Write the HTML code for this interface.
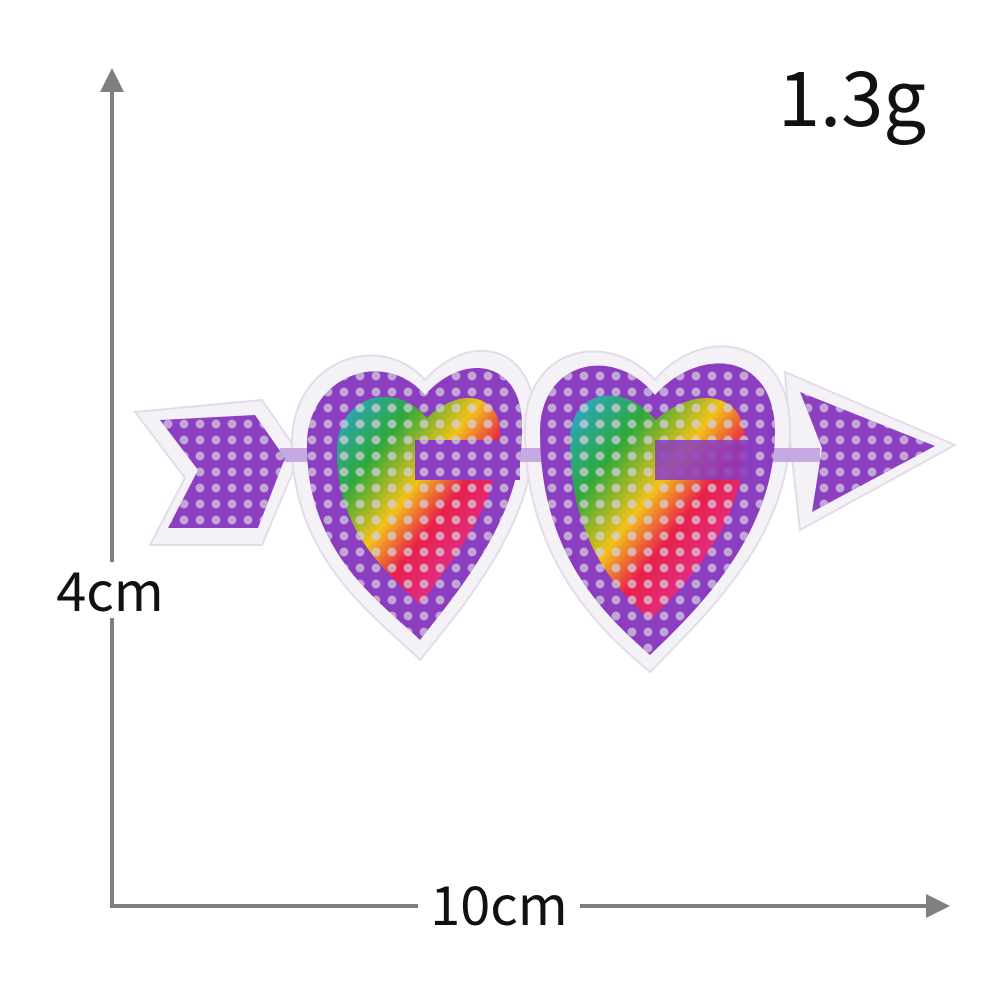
<!DOCTYPE html>
<html><head><meta charset="utf-8"><style>
html,body{margin:0;padding:0;background:#fff;width:1000px;height:1000px;overflow:hidden}
svg{display:block}
text{font-family:"Noto Sans CJK SC","Liberation Sans",sans-serif;fill:#111}
</style></head><body>
<svg width="1000" height="1000" viewBox="0 0 1000 1000">
<defs>
<linearGradient id="rb" x1="0" y1="0" x2="1" y2="1">
<stop offset="0" stop-color="#2aa6e0"/><stop offset="0.25" stop-color="#2fa83a"/>
<stop offset="0.45" stop-color="#f2c21a"/><stop offset="0.6" stop-color="#e8204a"/>
<stop offset="0.8" stop-color="#e0308f"/><stop offset="1" stop-color="#3a3ac0"/></linearGradient>
<pattern id="dots" width="16" height="16" patternUnits="userSpaceOnUse">
<circle cx="8" cy="8" r="4.5" fill="#d8d0e0" opacity="0.7"/></pattern>
</defs>
<g>
<line x1="112" y1="86" x2="112" y2="906" stroke="#7f7f7f" stroke-width="4"/>
<polygon points="112,68 100,92 124,92" fill="#7f7f7f"/>
</g>
<g>
<line x1="110" y1="906" x2="928" y2="906" stroke="#7f7f7f" stroke-width="4"/>
<polygon points="950,906 926,894 926,918" fill="#7f7f7f"/>
</g>
<rect x="48" y="562" width="125" height="56" fill="#fff"/>
<text x="110" y="611" font-size="54" text-anchor="middle">4cm</text>
<rect x="418" y="876" width="162" height="58" fill="#fff"/>
<text x="499" y="925" font-size="54" text-anchor="middle">10cm</text>
<text x="852" y="126" font-size="76" text-anchor="middle">1.3g</text>

<g>
<g fill="#f4f2f7" stroke="#e2dcea" stroke-width="2">
<polygon points="135,412 262,400 300,455 262,545 150,545 185,478"/>
<polygon points="785,372 955,445 800,530 790,440"/>
<path d="M420,660 C380,620 290,560 292,440 C294,360 380,330 425,380 C470,330 535,345 535,420 C540,520 460,610 420,660Z"/>
<path d="M650,672 C600,630 525,560 525,430 C525,345 610,330 655,380 C700,325 790,335 790,430 C790,540 700,620 650,672Z"/>
</g>
<rect x="280" y="448" width="540" height="14" fill="#c6a9e3"/>
<polygon points="160,420 255,415 285,458 258,528 168,528 198,470" fill="#8c3fc0"/>
<polygon points="160,420 255,415 285,458 258,528 168,528 198,470" fill="url(#dots)"/>
<polygon points="800,392 935,446 812,512 822,448" fill="#8c3fc0"/>
<polygon points="800,392 935,446 812,512 822,448" fill="url(#dots)"/>
<path d="M420,640 C385,605 305,555 307,442 C309,375 385,348 425,395 C465,350 522,362 522,425 C525,515 455,595 420,640Z" fill="#8a3dbf"/>
<path d="M420,605 C392,575 335,535 337,448 C339,395 395,380 427,418 C460,385 500,395 500,432 C502,505 448,565 420,605Z" fill="url(#rb)"/>
<path d="M420,640 C385,605 305,555 307,442 C309,375 385,348 425,395 C465,350 522,362 522,425 C525,515 455,595 420,640Z" fill="url(#dots)"/>
<path d="M650,655 C605,615 540,555 540,432 C540,360 615,345 655,395 C700,345 775,352 775,432 C775,535 695,612 650,655Z" fill="#8a3dbf"/>
<path d="M650,620 C615,588 570,540 570,440 C570,390 622,380 656,420 C695,385 745,392 745,440 C745,525 685,585 650,620Z" fill="url(#rb)"/>
<path d="M650,655 C605,615 540,555 540,432 C540,360 615,345 655,395 C700,345 775,352 775,432 C775,535 695,612 650,655Z" fill="url(#dots)"/>
<rect x="415" y="440" width="105" height="40" fill="#8a3dbf"/>
<rect x="415" y="440" width="105" height="40" fill="url(#dots)"/>
<rect x="655" y="440" width="100" height="40" fill="#8a3dbf" opacity="0.85"/>
</g>
</svg>
</body></html>
